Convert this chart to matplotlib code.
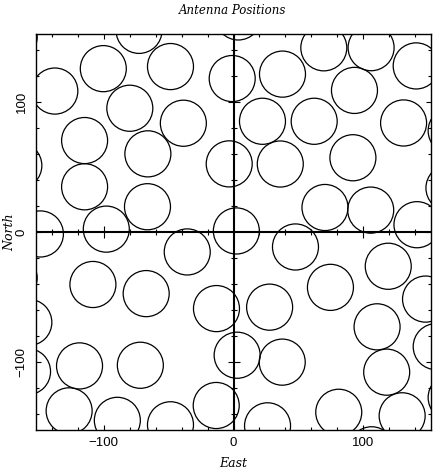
import numpy as np
import matplotlib
matplotlib.use("Agg")
from matplotlib import pyplot as plt
from matplotlib.patches import Circle

# antenna positions (East, North)
east = [-72.7, -100.2, -137.5, -79.8, -48.5, -114.6, -65.9, -38.6, -165.2, -114.6,
        -66.2, -148.6, -97.9, -35.6, -108.2, -67.2, -168.8, -157.5, -158.5, -118.5,
        -71.7, -126.5, -89.4, -48.5, -13.1, 27.8, 2.8, 37.5, -13.3, 26.2,
        81.0, 74.6, -3.3, -1.0, 3.7, 36.0, 2.2, 47.7, 70.4, 37.7,
        69.5, 105.9, 140.6, 93.1, 62.1, 130.9, 167.5, 91.9, 165.8, 105.6,
        141.2, 119.1, 147.8, 110.5, 156.0, 117.9, 129.8, 167.5, 106.3, 22.3,
        -168.8]
north = [154.8, 125.4, 108.2, 95.0, 127.0, 70.2, 60.0, 83.5, 51.0, 34.7,
         19.4, -1.5, 2.2, -15.3, -40.3, -47.3, -35.2, -69.4, -107.2, -102.8,
         -102.3, -137.3, -144.6, -148.0, -58.8, -57.7, -94.6, -99.9, -133.2, -148.8,
         -138.4, -42.5, 52.3, 117.8, 165.1, 52.2, 0.8, -11.5, 18.8, 121.2,
         141.4, 141.5, 127.5, 108.7, 85.0, 83.7, 77.7, 57.0, 33.8, 16.8,
         5.6, -26.3, -51.5, -72.8, -88.0, -107.6, -141.1, -127.1, -167.2, 85.0,
         149.5]

major_ticks = [-100, 0, 100]
tick_labels = ["\u2212100", "0", "100"]
minor_ticks = [-140, -120, -80, -60, -40, -20, 20, 40, 60, 80, 120, 140]

dish_radius = 17.7
lim = 152

fig = plt.figure(figsize=(4.33, 4.71), dpi=100)
ax = fig.add_axes([36 / 433, 41 / 471, 395 / 433, 396 / 471])

for e, n in zip(east, north):
    ax.add_patch(Circle((e, n), dish_radius, fill=False, edgecolor="black", lw=0.9))

# cross through the origin with its own ticks
ax.axhline(0, color="black", lw=1.5)
ax.axvline(0, color="black", lw=1.5)
zeros = np.zeros(len(minor_ticks))
ax.plot(minor_ticks, zeros, ls="none", marker="|", ms=4.5, mew=0.8, color="black")
ax.plot(zeros, minor_ticks, ls="none", marker="_", ms=4.5, mew=0.8, color="black")
big = [-100, 100]
ax.plot(big, [0, 0], ls="none", marker="|", ms=8, mew=0.8, color="black")
ax.plot([0, 0], big, ls="none", marker="_", ms=8, mew=0.8, color="black")

ax.set_xlim(-lim, lim)
ax.set_ylim(-lim, lim)

ax.set_xticks(major_ticks)
ax.set_xticklabels(tick_labels, family="Liberation Sans", fontsize=9.5)
ax.set_yticks(major_ticks)
ax.set_yticklabels(tick_labels, family="Liberation Sans", fontsize=9.5,
                   rotation=90, va="center")
ax.set_xticks(minor_ticks, minor=True)
ax.set_yticks(minor_ticks, minor=True)
ax.tick_params(which="both", direction="in", top=True, right=True, width=0.8)
ax.tick_params(which="major", length=3.8)
ax.tick_params(which="minor", length=1.9)
ax.tick_params(axis="x", pad=5)
ax.tick_params(axis="y", pad=6)

for s in ax.spines.values():
    s.set_linewidth(1.0)

ax.set_xlabel("East", family="DejaVu Serif", style="italic", fontsize=9)
ax.set_ylabel("North", family="DejaVu Serif", style="italic", fontsize=9)
ax.xaxis.set_label_coords(0.5, -0.084)
ax.yaxis.set_label_coords(-0.066, 0.5)
ax.xaxis.label.set_va("center")
ax.yaxis.label.set_va("center")

fig.text(233 / 433, 1 - 11 / 471, "Antenna Positions", family="DejaVu Serif",
         style="italic", fontsize=8.5, ha="center", va="center")

plt.savefig("out.png", dpi=100)
